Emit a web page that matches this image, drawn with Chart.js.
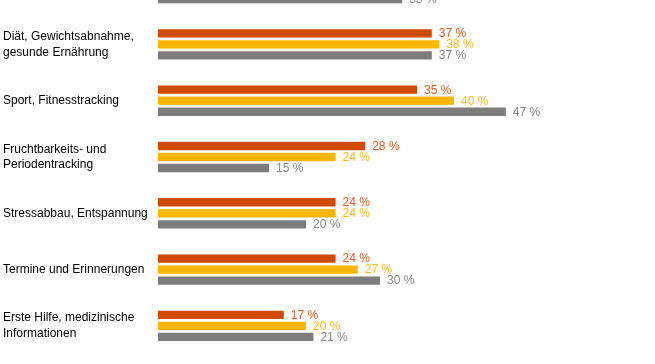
<!DOCTYPE html>
<html>
<head>
<meta charset="utf-8">
<script src="https://cdn.jsdelivr.net/npm/chart.js@4"></script>
<style>
  html, body { margin: 0; padding: 0; background: #fff; overflow: hidden; }
  #wrap { position: absolute; left: 0; top: -40px; width: 655px; height: 394px; }
</style>
</head>
<body>
<div id="wrap"><canvas id="chartCanvas"></canvas></div>
<script>
// first row is cut off at the top of the picture, only its grey bar shows
var categories = [
  '',
  ['Diät, Gewichtsabnahme,', 'gesunde Ernährung'],
  'Sport, Fitnesstracking',
  ['Fruchtbarkeits- und', 'Periodentracking'],
  'Stressabbau, Entspannung',
  'Termine und Erinnerungen',
  ['Erste Hilfe, medizinische', 'Informationen']
];
var seriesRed    = [40, 37, 35, 28, 24, 24, 17];
var seriesYellow = [38, 38, 40, 24, 24, 27, 20];
var seriesGrey   = [33, 37, 47, 15, 20, 30, 21];

var FONT = "'Liberation Sans', Arial, Helvetica, sans-serif";

// value labels at the end of every bar
var valueLabels = {
  id: 'valueLabels',
  afterDatasetsDraw: function (chart) {
    var ctx = chart.ctx;
    ctx.save();
    ctx.font = '12px ' + FONT;
    ctx.textAlign = 'left';
    ctx.textBaseline = 'middle';
    chart.data.datasets.forEach(function (ds, i) {
      var meta = chart.getDatasetMeta(i);
      ctx.fillStyle = ds.labelColor;
      meta.data.forEach(function (bar, j) {
        ctx.fillText(ds.data[j] + ' %', bar.x + 7, bar.y + 0.5);
      });
    });
    ctx.restore();
  }
};

var ctx = document.getElementById('chartCanvas').getContext('2d');
new Chart(ctx, {
  type: 'bar',
  data: {
    labels: categories,
    datasets: [
      { data: seriesRed, backgroundColor: '#d04a02', labelColor: '#d85d20' },
      { data: seriesYellow, backgroundColor: '#ffb600', labelColor: '#ffb91a' },
      { data: seriesGrey, backgroundColor: '#7d7d7d', labelColor: '#888888' }
    ]
  },
  options: {
    indexAxis: 'y',
    responsive: true,
    maintainAspectRatio: false,
    animation: false,
    categoryPercentage: 0.587,
    barPercentage: 0.755,
    layout: { padding: { left: 3, right: 53, top: 0, bottom: 0 } },
    plugins: {
      legend: { display: false },
      tooltip: { enabled: false }
    },
    scales: {
      x: {
        display: false,
        min: 0,
        max: 60
      },
      y: {
        grid: { display: false },
        border: { display: false },
        ticks: {
          autoSkip: false,
          crossAlign: 'far',
          padding: 0,
          color: '#000',
          font: { family: FONT, size: 12, lineHeight: 1.3 }
        },
        afterFit: function (scale) {
          scale.width = 155;
          scale.paddingTop = 0;
          scale.paddingBottom = 0;
        }
      }
    }
  },
  plugins: [valueLabels]
});
</script>
</body>
</html>
